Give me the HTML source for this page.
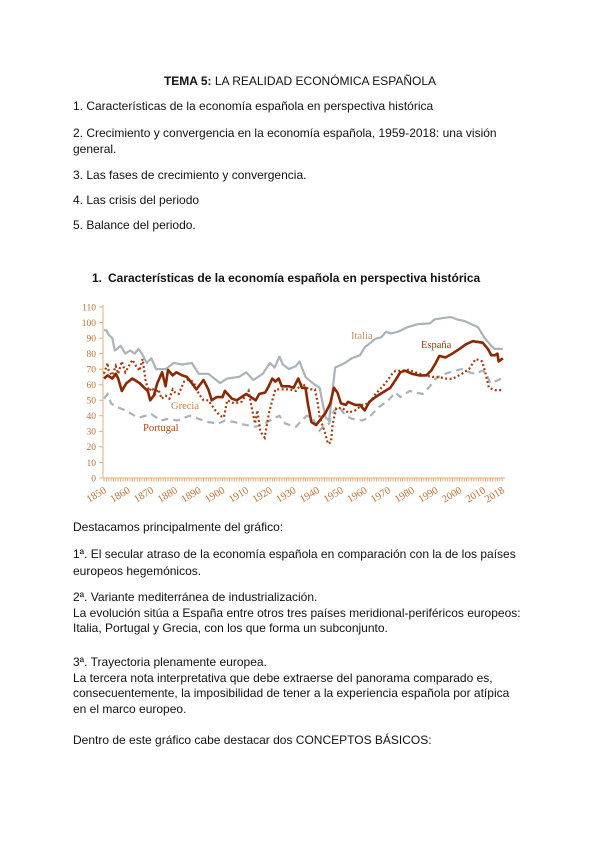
<!DOCTYPE html>
<html>
<head>
<meta charset="utf-8">
<style>
html,body{margin:0;padding:0;background:#fff;}
body{width:600px;height:848px;position:relative;overflow:hidden;font-family:"Liberation Sans",Arial,sans-serif;font-size:12px;color:#111;}
.l{position:absolute;left:73px;line-height:14px;white-space:nowrap;}
.b{font-weight:bold;}
svg{position:absolute;left:0;top:0;}
</style>
</head>
<body>
<div class="l" style="left:0;width:600px;text-align:center;top:74px;"><span class="b">TEMA 5:</span> LA REALIDAD ECONÓMICA ESPAÑOLA</div>
<div class="l" style="top:99px;">1. Características de la economía española en perspectiva histórica</div>
<div class="l" style="top:126px;">2. Crecimiento y convergencia en la economía española, 1959-2018: una visión</div>
<div class="l" style="top:142px;">general.</div>
<div class="l" style="top:168px;">3. Las fases de crecimiento y convergencia.</div>
<div class="l" style="top:193px;">4. Las crisis del periodo</div>
<div class="l" style="top:218px;">5. Balance del periodo.</div>
<div class="l b" style="top:271px;left:92px;">1.</div>
<div class="l b" style="top:271px;left:108px;">Características de la economía española en perspectiva histórica</div>

<div class="l" style="top:520px;">Destacamos principalmente del gráfico:</div>
<div class="l" style="top:547px;">1ª. El secular atraso de la economía española en comparación con la de los países</div>
<div class="l" style="top:564px;">europeos hegemónicos.</div>
<div class="l" style="top:590px;">2ª. Variante mediterránea de industrialización.</div>
<div class="l" style="top:606px;">La evolución sitúa a España entre otros tres países meridional-periféricos europeos:</div>
<div class="l" style="top:621px;">Italia, Portugal y Grecia, con los que forma un subconjunto.</div>
<div class="l" style="top:655px;">3ª. Trayectoria plenamente europea.</div>
<div class="l" style="top:671px;">La tercera nota interpretativa que debe extraerse del panorama comparado es,</div>
<div class="l" style="top:686px;">consecuentemente, la imposibilidad de tener a la experiencia española por atípica</div>
<div class="l" style="top:702px;">en el marco europeo.</div>
<div class="l" style="top:733px;">Dentro de este gráfico cabe destacar dos CONCEPTOS BÁSICOS:</div>

<svg width="600" height="848" viewBox="0 0 600 848" xmlns="http://www.w3.org/2000/svg">
  <g id="axes" stroke="#e3ad80" stroke-width="1" fill="none"></g>
  <g id="ylab" font-family="Liberation Serif, serif" font-size="9.5" fill="#bf7236" text-anchor="end"></g>
  <g id="xlab" font-family="Liberation Serif, serif" font-size="10.5" fill="#bf7236" text-anchor="end"></g>
  <path id="pt" fill="none" stroke="#aab3ba" stroke-width="2.2" stroke-dasharray="7 5"/>
  <path id="it" fill="none" stroke="#aab3ba" stroke-width="2.2" stroke-linejoin="round"/>
  <path id="gr" fill="none" stroke="#a33f14" stroke-width="2.2" stroke-dasharray="2 2.4"/>
  <path id="es" fill="none" stroke="#8a2804" stroke-width="2.6" stroke-linejoin="round"/>
  <g font-family="Liberation Serif, serif" font-size="10.5">
    <text x="351" y="339" fill="#c99062">Italia</text>
    <text x="421" y="348" fill="#9a3810">España</text>
    <text x="171" y="409" fill="#c5834e">Grecia</text>
    <text x="143" y="431" fill="#a44a1e">Portugal</text>
  </g>
</svg>
<script>
(function(){
var X=function(y){return 104+(y-1850)*2.37;};
var Y=function(v){return 478-v*1.555;};
function d(a){var s='';for(var i=0;i<a.length;i++){s+=(i?'L':'M')+X(a[i][0]).toFixed(1)+' '+Y(a[i][1]).toFixed(1);}return s;}
var it=[[1850,95],[1851,95],[1852,92],[1853.5,90],[1854.5,82],[1855.5,83],[1857,85],[1859,80],[1861,82],[1863,80],[1864.5,83],[1866,80],[1868,74],[1870,77],[1872,70],[1876,70],[1879.5,74],[1883,73],[1887,74],[1890,67],[1894,67],[1899,61],[1902,64],[1907,65],[1910,68],[1913,63],[1917,67],[1920,74],[1922,71],[1924,78],[1925.5,73],[1928,70],[1931,72],[1932.5,75],[1935,65],[1938,61],[1941,58],[1942,50],[1943.5,39],[1945,37],[1946,50],[1947.5,71],[1951.7,74],[1954.5,77],[1958,79],[1960,84],[1964.5,89.5],[1967,90.5],[1969,94],[1971,93],[1974,94],[1978,97],[1982.5,99],[1987.5,99.4],[1989.5,102],[1993.6,103],[1996.5,103.5],[1999,102],[2002,101],[2005,99],[2007.8,97],[2010.6,90],[2013.4,85],[2014.8,83],[2018.3,83]];
var es=[[1850,64],[1851.5,66],[1853.5,64],[1855,67],[1856,64],[1857.5,56],[1859.5,61],[1862,64],[1865,61],[1867,58],[1868.5,56],[1869.5,50],[1871,53],[1872.5,61],[1874.5,68],[1876,59],[1877,69.5],[1879,66],[1880.5,68],[1883,66],[1885,65],[1887,61],[1889,57],[1892,63],[1894,57],[1895.5,50],[1897.5,52],[1900,52],[1901,56],[1904,51],[1906,50],[1908,52],[1910,54],[1912,52],[1914,50],[1915.5,54],[1918,55],[1919.5,59],[1921,64],[1922.3,62],[1923.7,64],[1925,59],[1928,59],[1930,58],[1932,64],[1933.5,58],[1935,58],[1936,48],[1937.5,36],[1939.5,34],[1941.5,38],[1943.5,42],[1945.5,48],[1947,58],[1948.5,55],[1950,48],[1952,47],[1953,49],[1956,47],[1958,47],[1960,43.5],[1962,49],[1964.5,52],[1968.7,56],[1970.8,58],[1973,63],[1975,68],[1977,69],[1980,67],[1983,66],[1986,66],[1988,69],[1990,74],[1991.5,78.5],[1994,77.5],[1997,80],[2000,83],[2002.7,86],[2005.6,88],[2009.8,87],[2012,83],[2013.4,79],[2015,79],[2016,80],[2016.5,75],[2018.3,77]];
var pt=[[1850,51],[1851.5,54],[1853,48],[1855,46],[1859,43.5],[1863,40],[1865,39],[1870,41],[1874,37],[1877,38],[1881,37],[1886,40],[1890,38],[1894,36],[1898,35],[1901,37],[1905,36],[1910,34],[1914,33],[1918,35],[1921,38],[1924,40],[1926.5,35],[1931,33],[1933.5,37],[1935.5,40],[1937.8,39],[1940,33],[1941,30.5],[1943,34],[1945,35],[1946,41],[1949,46],[1952,40],[1954.8,38],[1959,37],[1961.8,39],[1966,45.6],[1970,50],[1973,55],[1975,52],[1979,56],[1981.6,55],[1984.4,54],[1987,58],[1990,64],[1994,67],[1998,69],[2001,70],[2004,68],[2006.7,67],[2009.5,69],[2011,68],[2013,61],[2016.5,63],[2018.5,65]];
var gr=[[1850,67],[1851.5,74],[1852,69],[1853.5,66],[1855,72],[1856,67],[1857.5,75],[1859,68],[1860.5,72],[1862,76],[1863.5,72],[1865,69],[1866.3,76.5],[1867.6,62],[1869,56],[1870.3,58],[1871.7,54],[1873,57],[1874.3,51],[1876,53],[1877.6,51],[1879,57],[1880,55],[1881.5,54],[1883.8,62],[1885,63],[1886.5,63],[1888,61],[1890,54],[1892,50],[1894,50],[1897,43.5],[1899,40],[1900.6,39],[1902,50],[1905,48],[1908,49],[1911,56],[1912,48],[1913.7,35],[1914.7,43.5],[1916,30],[1917.8,26],[1919.5,41],[1921,50],[1922.3,57],[1925,57],[1928,57],[1931,56],[1933.5,61],[1936.4,57],[1939,57],[1940,50],[1941,39],[1943,30.5],[1944.5,22],[1945.8,23],[1946.5,35],[1948,45],[1950.6,45],[1953,42],[1956,43.5],[1959,47],[1961.8,48],[1964.6,54],[1968.8,61],[1971.6,67],[1973,69],[1975.8,69],[1978.6,69.6],[1981.4,68],[1985.6,66],[1988.5,65],[1991.3,65],[1994,64],[1997,63.7],[2001,67],[2004,70],[2006.8,76.5],[2009.6,75],[2011,67],[2012.4,58],[2015,56.5],[2018.5,56.5]];
document.getElementById('it').setAttribute('d',d(it));
document.getElementById('es').setAttribute('d',d(es));
document.getElementById('pt').setAttribute('d',d(pt));
document.getElementById('gr').setAttribute('d',d(gr));
var NS='http://www.w3.org/2000/svg';
var ax=document.getElementById('axes');
var s='M103 305L103 478L505 478';
for(var v=0;v<=110;v+=10){var yy=Y(v);s+='M99 '+yy.toFixed(1)+'L103 '+yy.toFixed(1);}
for(var yr=1850;yr<=2018;yr++){var xx=X(yr);s+='M'+xx.toFixed(1)+' 478L'+xx.toFixed(1)+' 481.5';}
var p=document.createElementNS(NS,'path');p.setAttribute('d',s);ax.appendChild(p);
var yl=document.getElementById('ylab');
for(var v=0;v<=110;v+=10){var t=document.createElementNS(NS,'text');t.setAttribute('x','96');t.setAttribute('y',(Y(v)+3.3).toFixed(1));t.textContent=v;yl.appendChild(t);}
var xl=document.getElementById('xlab');
var yrs=[1850,1860,1870,1880,1890,1900,1910,1920,1930,1940,1950,1960,1970,1980,1990,2000,2010,2018];
for(var i=0;i<yrs.length;i++){var xx=X(yrs[i])+3;var t=document.createElementNS(NS,'text');t.setAttribute('x',xx.toFixed(1));t.setAttribute('y','492');t.setAttribute('transform','rotate(-31 '+xx.toFixed(1)+' 492)');t.textContent=yrs[i];xl.appendChild(t);}
})();
</script>
</body>
</html>
